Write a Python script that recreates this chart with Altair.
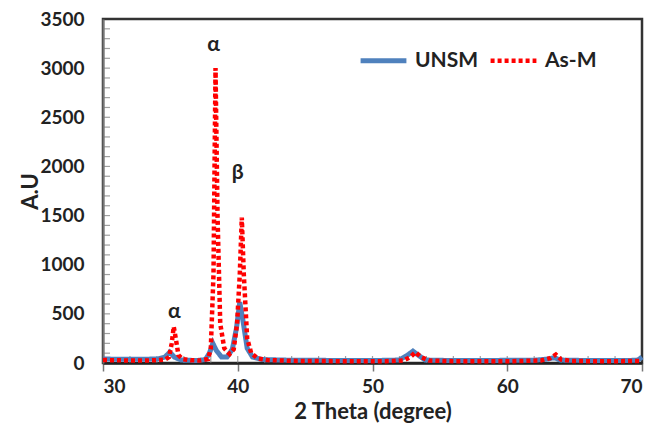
import altair as alt
import pandas as pd

# As-M (red dotted)
asm_x = [30, 31, 32, 33, 34, 34.6, 34.9, 35.1, 35.25, 35.4, 35.6, 35.9, 36.5, 37.2, 37.8, 38.0, 38.2, 38.35, 38.5, 38.7,
         39.0, 39.4, 39.7, 39.95, 40.15, 40.3, 40.45, 40.7, 41.0, 41.5, 42.2, 44, 48, 51, 52.3, 52.8, 53.2, 53.6, 54.2,
         56, 60, 62.5, 63.2, 63.6, 64.0, 64.8, 67, 70]
asm_y = [30, 28, 25, 25, 28, 35, 60, 200, 370, 250, 80, 40, 28, 25, 40, 150, 900, 3000, 1500, 400,
         150, 90, 140, 400, 900, 1480, 900, 250, 100, 45, 30, 22, 18, 18, 25, 60, 110, 60, 25,
         18, 18, 25, 50, 85, 35, 20, 18, 20]

# UNSM (blue solid)
unsm_x = [30, 32, 34, 34.6, 34.95, 35.3, 35.8, 37, 37.6, 37.9, 38.15, 38.4, 38.8, 39.2, 39.6, 39.9, 40.15, 40.4,
          40.7, 41.1, 41.8, 44, 50, 52, 52.6, 53.0, 53.4, 53.9, 56, 62, 63, 63.5, 63.9, 66, 69, 69.7, 70]
unsm_y = [40, 38, 40, 60, 110, 60, 30, 25, 35, 100, 200, 130, 60, 60, 140, 350, 620, 420,
          150, 60, 35, 28, 25, 30, 80, 120, 80, 30, 25, 28, 40, 55, 30, 25, 25, 30, 60]

# peak labels
ann_text = ["α", "α", "β"]
ann_x = [35.3, 38.2, 40.0]
ann_y = [520, 3235, 1930]

x_minor = list(range(32, 70, 2))
y_minor = list(range(100, 3500, 100))

FONT = "Lato"

df = pd.concat([
    pd.DataFrame({"x": unsm_x, "y": unsm_y, "series": "UNSM"}),
    pd.DataFrame({"x": asm_x, "y": asm_y, "series": "As-M"}),
])

xscale = alt.Scale(domain=[30, 70], nice=False, zero=False)
yscale = alt.Scale(domain=[0, 3500], nice=False)
cscale = alt.Scale(domain=["UNSM", "As-M"], range=["#4f81bd", "#ff0000"])
dscale = alt.Scale(domain=["UNSM", "As-M"], range=[[1, 0], [4, 3]])
wscale = alt.Scale(domain=["UNSM", "As-M"], range=[5, 4.5])

legend = alt.Legend(title=None, orient="none", legendX=255, legendY=16, direction="horizontal",
                    symbolType="stroke", symbolSize=2100, symbolStrokeWidth=4.5,
                    labelFontSize=21, labelFont=FONT, labelFontWeight="bold", labelColor="#222",
                    columnPadding=2, labelOffset=6)

base = alt.Chart(df).encode(
    x=alt.X("x:Q", scale=xscale,
            axis=alt.Axis(values=[30, 40, 50, 60, 70], title="2 Theta (degree)", grid=False,
                          tickSize=8, tickColor="#777", tickWidth=1.5, labelPadding=6,
                          domainColor="#222", domainWidth=2.5, titlePadding=5)),
    y=alt.Y("y:Q", scale=yscale,
            axis=alt.Axis(values=list(range(0, 3501, 500)), format="d", title="A.U", grid=False,
                          ticks=False, labelPadding=19, domainColor="#777", domainWidth=2,
                          titlePadding=-3)),
    color=alt.Color("series:N", scale=cscale, legend=legend),
    strokeDash=alt.StrokeDash("series:N", scale=dscale, legend=legend),
    strokeWidth=alt.StrokeWidth("series:N", scale=wscale, legend=None),
)

blue = base.transform_filter(alt.datum.series == "UNSM").mark_line()
red = base.transform_filter(alt.datum.series == "As-M").mark_line()

xm = alt.Chart(pd.DataFrame({"x": x_minor})).mark_tick(color="#777", thickness=1.2, size=7).encode(
    x=alt.X("x:Q", scale=xscale), y=alt.value(340.5))
ym = alt.Chart(pd.DataFrame({"y": y_minor})).mark_tick(color="#777", thickness=1.2, size=7, orient="horizontal").encode(
    y=alt.Y("y:Q", scale=yscale), x=alt.value(3.5))

ann = alt.Chart(pd.DataFrame({"x": ann_x, "y": ann_y, "t": ann_text})).mark_text(
    font=FONT, fontSize=21, fontWeight="bold", color="#222").encode(
    x=alt.X("x:Q", scale=xscale), y=alt.Y("y:Q", scale=yscale), text="t:N")

chart = alt.layer(xm, ym, blue, red, ann).properties(
    width=539, height=344, autosize="none",
    padding={"left": 103, "top": 19, "right": 11, "bottom": 69},
).configure_view(stroke="#333", strokeWidth=2.5).configure_axis(
    labelFont=FONT, labelFontSize=19, labelFontWeight="bold", labelColor="#222",
    titleFont=FONT, titleFontSize=22, titleFontWeight="bold", titleColor="#222",
)

chart.save("out.html", embed_options={"renderer": "svg", "actions": False})
